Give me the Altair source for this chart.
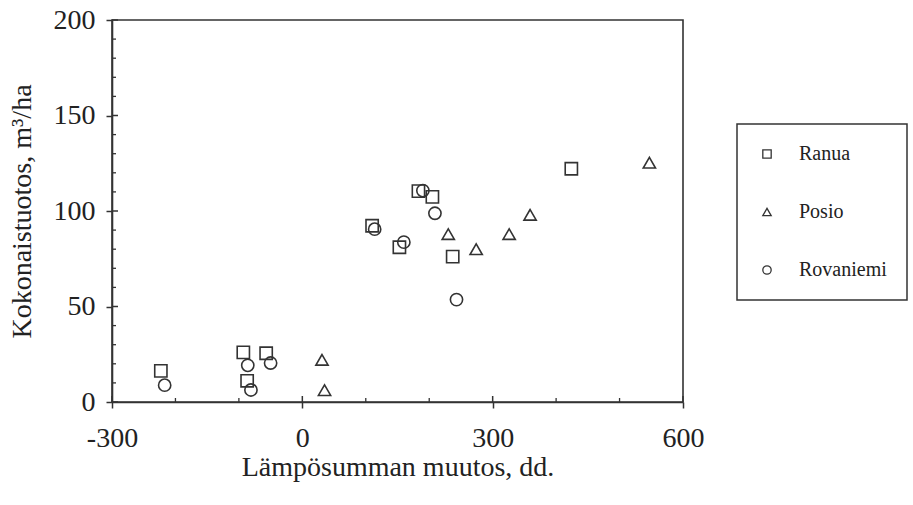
import altair as alt
import pandas as pd

# Stand-level values: change in temperature sum (dd) vs. total yield (m3/ha)
series_names = ["Ranua", "Posio", "Rovaniemi"]
series_shapes = ["square", "triangle-up", "circle"]

ranua_x = [-223, -93, -87, -57, 110, 153, 183, 205, 237, 424]
ranua_y = [16.3, 26.0, 11.1, 25.5, 92.3, 81.0, 110.4, 107.4, 76.1, 122.1]

posio_x = [31, 35, 230, 274, 326, 359, 547]
posio_y = [22.1, 6.2, 87.9, 80.0, 87.9, 98.0, 125.3]

rovaniemi_x = [-217, -86, -81, -50, 114, 160, 190, 209, 243]
rovaniemi_y = [8.8, 19.2, 6.3, 20.4, 90.5, 83.7, 110.7, 98.8, 53.6]

x_major = [-300, 0, 300, 600]
x_minor = [-200, -100, 100, 200, 400, 500]
y_major = [0, 50, 100, 150, 200]
y_minor = [10, 20, 30, 40, 60, 70, 80, 90, 110, 120, 130, 140, 160, 170, 180, 190]

frames = []
for name, xs, ys in [("Ranua", ranua_x, ranua_y),
                     ("Posio", posio_x, posio_y),
                     ("Rovaniemi", rovaniemi_x, rovaniemi_y)]:
    frames.append(pd.DataFrame({"muutos": xs, "tuotos": ys, "paikka": name}))
points_df = pd.concat(frames, ignore_index=True)

INK = "#333333"
TEXT = "#222222"
FONT = "Liberation Serif"
W, H = 571, 382

x_scale = alt.Scale(domain=[-300, 600], nice=False, zero=False)
y_scale = alt.Scale(domain=[0, 200], nice=False)

points = alt.Chart(points_df).mark_point(
    filled=False, stroke="#333333", strokeWidth=1.6, opacity=1, size=150
).encode(
    x=alt.X("muutos:Q", scale=x_scale,
            axis=alt.Axis(values=x_major, title="Lämpösumman muutos, dd.",
                          labelExpr="'' + datum.value",
                          titleX=W / 2, titleY=65, titleBaseline="middle")),
    y=alt.Y("tuotos:Q", scale=y_scale,
            axis=alt.Axis(values=y_major, title="Kokonaistuotos, m³/ha",
                          titleX=-90, titleY=H / 2, titleBaseline="middle",
                          titleAngle=-90)),
    shape=alt.Shape("paikka:N",
                    scale=alt.Scale(domain=series_names, range=series_shapes),
                    legend=alt.Legend(title=None, orient="none",
                                      legendX=625, legendY=104)),
)

# inward-pointing tick marks on the left and bottom axes
y_in_major = alt.Chart(pd.DataFrame({"v": y_major})).mark_rule(
    color=INK, strokeWidth=1.5
).encode(y=alt.Y("v:Q", scale=y_scale), x=alt.value(0), x2=alt.value(6))

y_in_minor = alt.Chart(pd.DataFrame({"v": y_minor})).mark_rule(
    color=INK, strokeWidth=1.3
).encode(y=alt.Y("v:Q", scale=y_scale), x=alt.value(0), x2=alt.value(4))

x_in_major = alt.Chart(pd.DataFrame({"v": x_major})).mark_rule(
    color=INK, strokeWidth=1.5
).encode(x=alt.X("v:Q", scale=x_scale), y=alt.value(H), y2=alt.value(H - 6))

x_in_minor = alt.Chart(pd.DataFrame({"v": x_minor})).mark_rule(
    color=INK, strokeWidth=1.3
).encode(x=alt.X("v:Q", scale=x_scale), y=alt.value(H), y2=alt.value(H - 4))

chart = alt.layer(
    y_in_minor, y_in_major, x_in_minor, x_in_major, points
).properties(
    width=W, height=H,
    padding={"left": 112, "top": 20, "right": 230, "bottom": 103},
    autosize=alt.AutoSizeParams(type="none"),
    background="white",
).configure_view(
    stroke=INK, strokeWidth=1.6
).configure_axis(
    grid=False,
    domainColor=INK, domainWidth=1.6,
    tickColor=INK, tickWidth=1.5, tickSize=6,
    labelFont=FONT, labelFontSize=28, labelColor=TEXT,
    labelFlush=False, labelOverlap=False,
    titleFont=FONT, titleFontSize=28, titleColor=TEXT,
    titleFontWeight="normal",
).configure_axisX(
    labelPadding=16,
).configure_axisY(
    labelPadding=11,
).configure_legend(
    strokeColor=INK, strokeWidth=1.5, fillColor="white",
    padding=20, rowPadding=38,
    labelFont=FONT, labelFontSize=20, labelColor=TEXT, labelOffset=22,
    symbolSize=70, symbolStrokeWidth=1.3, symbolStrokeColor="#333333",
    symbolFillColor="white",
)

chart.save("out.html", embed_options={"renderer": "svg", "actions": False})
